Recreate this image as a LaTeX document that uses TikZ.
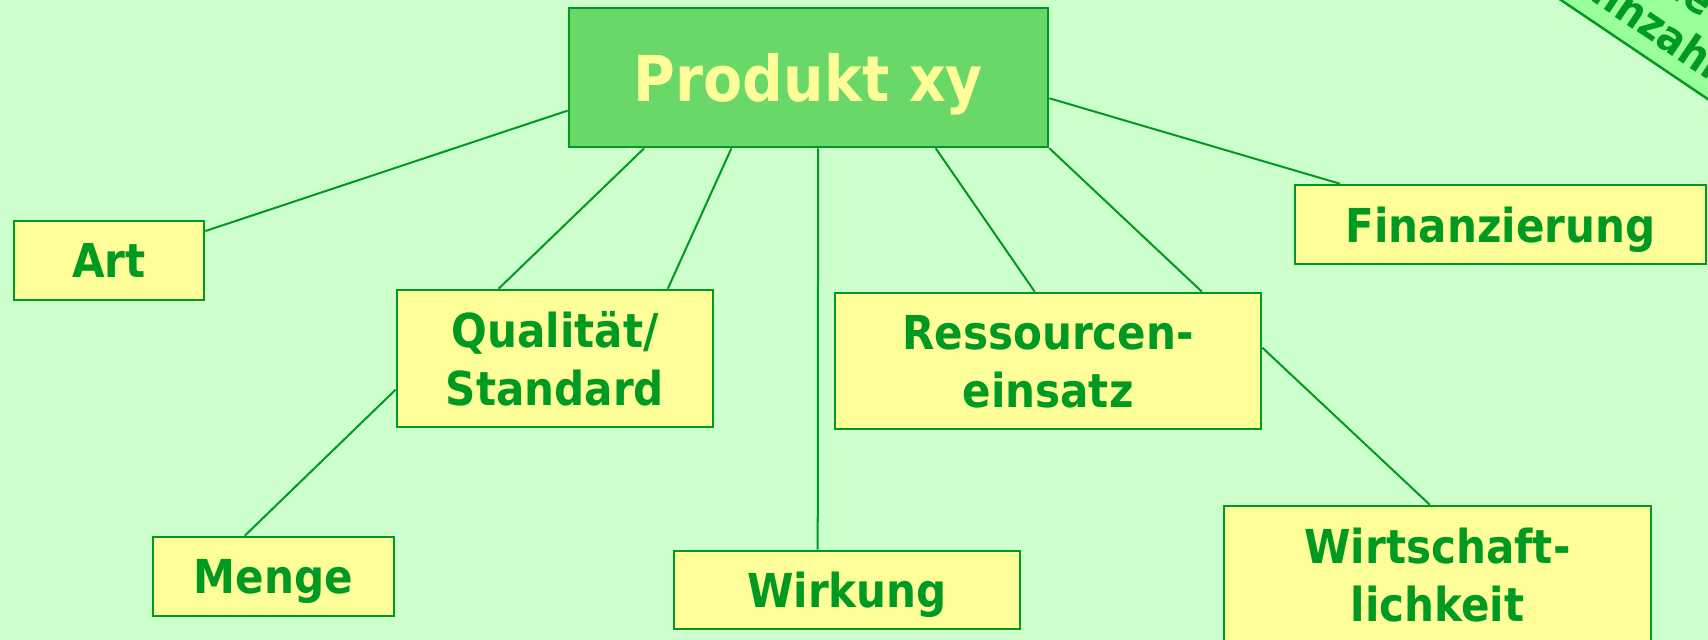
\documentclass[tikz,border=0pt]{standalone}
\usepackage{fontspec}
\setmainfont{DejaVu Sans Condensed}
\usetikzlibrary{calc}
\definecolor{bg}{HTML}{CCFFCC}
\definecolor{dg}{HTML}{009922}
\definecolor{boxy}{HTML}{FFFF99}
\definecolor{prodg}{HTML}{6AD868}
\definecolor{band}{HTML}{99FF99}
\begin{document}
\begin{tikzpicture}[x=0.01cm,y=-0.01cm,
  box/.style={draw=dg, line width=0.7pt, fill=boxy, text=dg,
    font=\fontsize{13.3}{16.5}\selectfont\bfseries, align=center,
    inner sep=0pt, text depth=0pt},
  link/.style={draw=dg, line width=0.57pt},
  bandtext/.style={text=dg, font=\fontsize{12.3}{15}\selectfont\bfseries,
    anchor=base, transform shape, inner sep=0pt}]
\useasboundingbox (0,0) rectangle (1708,640);
\fill[bg] (0,0) rectangle (1708,640);
\clip (0,0) rectangle (1708,640);

% corner banner
\begin{scope}[shift={(15.60cm,0cm)}, rotate=-34]
  \draw[draw=dg, line width=0.7pt, fill=band] (-3cm,0cm) rectangle (4cm,2cm);
  \node[bandtext] (kenn) at (0.95cm,0.16cm) {Kennzahlen};
  \node[bandtext] (ziele) at (0.74cm,0.64cm) {Ziele};
\end{scope}

% nodes
\node[box, fill=prodg, text=boxy, font=\fontsize{18}{22}\selectfont\bfseries,
  minimum width=4.79cm, minimum height=1.39cm] (prod) at (808.5,77.5) {Produkt xy};
\node[box, minimum width=1.90cm, minimum height=0.79cm] (art) at (109,260.5) {Art};
\node[box, minimum width=3.16cm, minimum height=1.37cm] (qual) at (555,358.5) {Qualität/\\Standard};
\node[box, minimum width=2.41cm, minimum height=0.79cm] (menge) at (273.5,576.5) {Menge};
\node[box, minimum width=3.46cm, minimum height=0.78cm] (wirk) at (847,590) {Wirkung};
\node[box, minimum width=4.26cm, minimum height=1.36cm] (ress) at (1048,361) {Ressourcen-\\einsatz};
\node[box, minimum width=4.11cm, minimum height=0.79cm] (fin) at (1500.5,224.5) {Finanzierung};
\node[box, minimum width=4.27cm, minimum height=1.37cm] (wirt) at (1437.5,574.5) {Wirtschaft-\\lichkeit};

% connectors
\draw[link] ($(prod.north west)!0.734!(prod.south west)$) -- ($(art.north east)!0.139!(art.south east)$);
\draw[link] ($(prod.south west)!0.159!(prod.south east)$) -- ($(qual.north west)!0.323!(qual.north east)$);
\draw[link] ($(prod.south west)!0.340!(prod.south east)$) -- ($(qual.north west)!0.854!(qual.north east)$);
\draw[link] ($(prod.south west)!0.520!(prod.south east)$) -- ($(wirk.north west)!0.416!(wirk.north east)$);
\draw[link] ($(prod.south west)!0.764!(prod.south east)$) -- ($(ress.north west)!0.469!(ress.north east)$);
\draw[link] (prod.south east) -- ($(ress.north west)!0.859!(ress.north east)$);
\draw[link] ($(prod.north east)!0.647!(prod.south east)$) -- ($(fin.north west)!0.112!(fin.north east)$);
\draw[link] ($(menge.north west)!0.382!(menge.north east)$) -- ($(qual.north west)!0.723!(qual.south west)$);
\draw[link] ($(ress.north east)!0.404!(ress.south east)$) -- ($(wirt.north west)!0.482!(wirt.north east)$);
\end{tikzpicture}
\end{document}
